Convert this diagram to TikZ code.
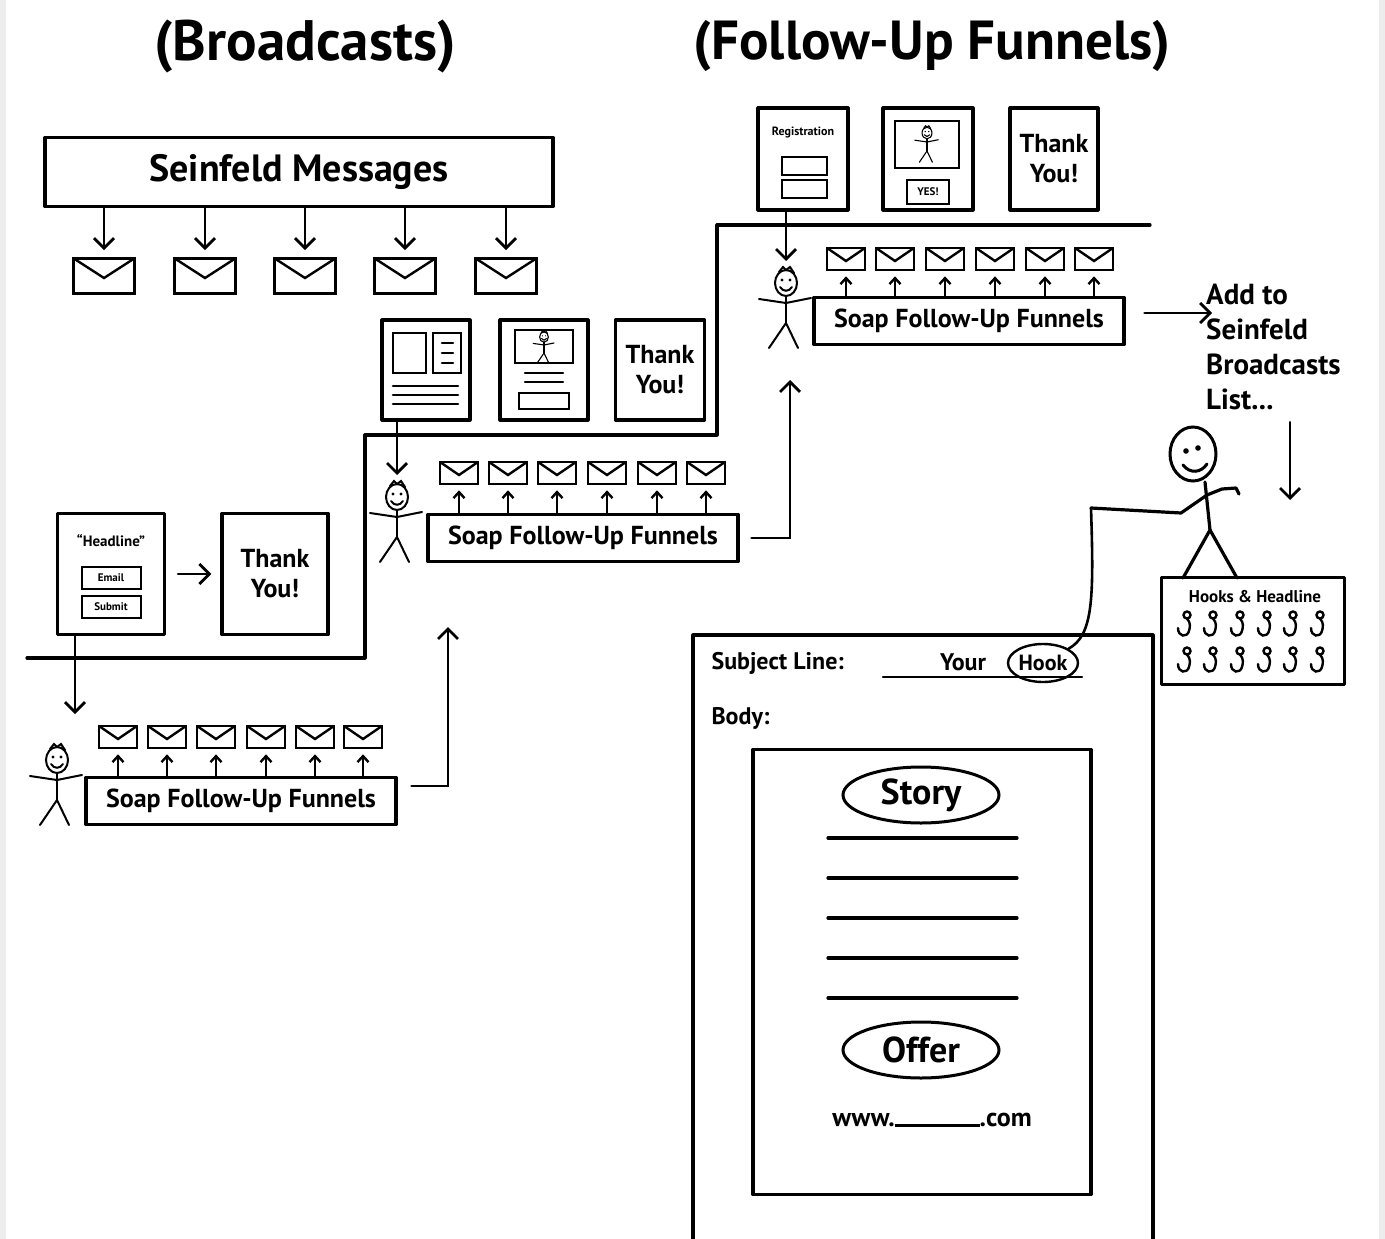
\documentclass[tikz,border=0pt]{standalone}
\usepackage{fontspec}
\setmainfont{PT Sans}
\usetikzlibrary{arrows.meta,shapes.geometric}

\newcommand\handsize[2]{\fontsize{#1}{#2}\selectfont\bfseries}

\tikzset{
  ink/.style={line width=3.2pt,line join=round},
  page/.style={draw,ink,inner sep=0pt,align=center},
  funnel/.style={page,minimum width=310pt,minimum height=47pt,font=\handsize{26}{31}},
  env/.style={draw,line width=2.6pt,inner sep=0pt,minimum width=#1,minimum height=0.58*#1,
    path picture={\draw[line width=2.4pt] (path picture bounding box.north west)
      -- ([yshift=-2pt]path picture bounding box.center) -- (path picture bounding box.north east);}},
  env/.default=38pt,
  arr/.style={line width=2.8pt,-{Straight Barb[length=10pt,width=20pt]}},
  uparr/.style={line width=2.4pt,-{Straight Barb[length=6pt,width=11pt]}},
  % little stick figure, origin at the centre of the head
  stickman/.pic={
    \draw (0,0) ellipse[x radius=11pt,y radius=13pt];
    \fill (-4,-3) circle[radius=1.6pt] (4,-3) circle[radius=1.6pt];
    \draw (-6,4) .. controls (-3,9) and (3,9) .. (6,4);
    \draw (-7,-11) -- (-3,-16) -- (0,-13) -- (4,-16) -- (8,-10);
    \draw (0,13) -- (0,40);
    \draw (-27,16) -- (0,20) -- (25,15);
    \draw (-17,65) -- (0,40) -- (12,65);
    \coordinate (-top) at (0,-22);
  },
  fishhook/.pic={
    \draw (0,0) circle[radius=3.5pt];
    \draw (0,3.5) .. controls (4,8) and (3,12) .. (2,16) .. controls (0,23) and (-9,22) .. (-9,13);
  }
}

\begin{document}
\begin{tikzpicture}[x=1pt,y=-1pt,line cap=round]
\useasboundingbox (0,0) rectangle (1385,1239);
\fill[white] (0,0) rectangle (1385,1239);
\fill[black!7] (0,0) rectangle (6,1239) (1379,0) rectangle (1385,1239);

% headings
\node[font=\handsize{57}{62}] (bcast) at (305,46) {(Broadcasts)};
\node[font=\handsize{55}{62}] (fup) at (932,46) {(Follow-Up Funnels)};

% broadcast box and its mails
\node[page,minimum width=508pt,minimum height=69pt,font=\handsize{38}{44}] (seinfeld) at (299,172) {Seinfeld Messages};
\foreach \x [count=\i] in {104,205,305,405,506}{
  \node[env=61pt] (mail\i) at (\x,276) {};
  \draw[arr,shorten >=7pt] (seinfeld.south -| mail\i) -- (mail\i.north);
}

% the staircase
\draw[ink] (27,658) -- (365,658) -- (365,435) -- (717,435) -- (717,225) -- (1150,225);

% step 1
\node[page,minimum width=107pt,minimum height=121pt] (optin) at (111,574) {};
\node[font=\handsize{15}{18}] (headline) at (111,541) {``Headline''};
\node[draw,line width=2pt,minimum width=59pt,minimum height=22pt,inner sep=0pt,font=\handsize{11}{13}] (email) at (111,578) {Email};
\node[draw,line width=2pt,minimum width=59pt,minimum height=22pt,inner sep=0pt,font=\handsize{11}{13}] (submit) at (111,607) {Submit};
\node[page,minimum width=106pt,minimum height=121pt,font=\handsize{26}{30}] (thanks1) at (275,574) {Thank\\You!};
\draw[arr,shorten <=12pt,shorten >=9pt] (optin) -- (thanks1);

\pic[line width=2pt] (man1) at (57,760) {stickman};
\coordinate (drop1) at (75,714);
\draw[arr] (optin.south -| drop1) -- (drop1);

\node[funnel] (soap1) at (241,801) {Soap Follow-Up Funnels};
\foreach \x [count=\i] in {118,167,216,266,315,363}{
  \node[env] (ea\i) at (\x,737) {};
  \draw[uparr,shorten >=5pt] (soap1.north -| ea\i) -- (ea\i.south);
}
\coordinate (rise1) at (448,627);
\draw[arr] ([xshift=14pt,yshift=15pt]soap1.east) -| (rise1);

% step 2
\node[page,minimum width=88pt,minimum height=100pt] (sales2) at (426,370) {};
\draw[line width=2.4pt] (393,333) rectangle (426,373) (433,333) rectangle (461,373);
\draw[line width=2.6pt] (442,343) -- (453,343) (442,353) -- (453,353) (442,363) -- (453,363);
\draw[line width=2.6pt] (393,386) -- (458,386) (393,395) -- (458,395) (393,404) -- (458,404);
\node[page,minimum width=88pt,minimum height=100pt] (video2) at (544,370) {};
\draw[line width=2.4pt] (515,330) rectangle (573,363);
\pic[scale=.4,line width=1.1pt] at (544,337) {stickman};
\draw[line width=2.4pt] (525,373) -- (563,373) (525,382) -- (563,382);
\draw[line width=2.4pt] (519,393) rectangle (569,409);
\node[page,minimum width=89pt,minimum height=100pt,font=\handsize{26}{30}] (thanks2) at (660,370) {Thank\\You!};

\pic[line width=2pt] (man2) at (397,497) {stickman};
\draw[arr] (sales2.south -| man2-top) -- (man2-top);

\node[funnel] (soap2) at (583,538) {Soap Follow-Up Funnels};
\foreach \x [count=\i] in {459,508,557,607,657,706}{
  \node[env] (eb\i) at (\x,473) {};
  \draw[uparr,shorten >=5pt] (soap2.north -| eb\i) -- (eb\i.south);
}
\coordinate (rise2) at (790,380);
\draw[arr] ([xshift=12pt]soap2.east) -| (rise2);

% step 3
\node[page,minimum width=90pt,minimum height=102pt] (reg3) at (803,159) {};
\node[font=\handsize{12}{14}] (regtitle) at (803,133) {Registration};
\draw[line width=2.4pt] (782,157) rectangle (827,175) (782,180) rectangle (827,198);
\node[page,minimum width=90pt,minimum height=102pt] (video3) at (928,159) {};
\draw[line width=2.4pt] (895,121) rectangle (959,168);
\pic[scale=.45,line width=1.1pt] at (927,133) {stickman};
\node[draw,line width=2pt,minimum width=42pt,minimum height=24pt,inner sep=0pt,font=\handsize{11}{13}] (yes) at (928,192) {YES!};
\node[page,minimum width=88pt,minimum height=102pt,font=\handsize{26}{30}] (thanks3) at (1054,159) {Thank\\You!};

\pic[line width=2pt] (man3) at (786,283) {stickman};
\draw[arr] (reg3.south -| man3-top) -- (man3-top);

\node[funnel] (soap3) at (969,321) {Soap Follow-Up Funnels};
\foreach \x [count=\i] in {846,895,945,995,1045,1094}{
  \node[env] (ec\i) at (\x,259) {};
  \draw[uparr,shorten >=5pt] (soap3.north -| ec\i) -- (ec\i.south);
}
\node[anchor=north west,align=left,inner sep=0pt,font=\handsize{29}{35}] (addlist) at (1206,284) {Add to\\Seinfeld\\Broadcasts\\List...};
\coordinate (addin) at (1212,313);
\draw[arr] ([xshift=19pt,yshift=8pt]soap3.east) -- (addin);
\coordinate (drop4) at (1290,500);
\draw[arr,shorten <=12pt] (addlist.south -| drop4) -- (drop4);

% tackle box and the fisherman
\node[page,minimum width=183pt,minimum height=107pt] (tackle) at (1253,631) {};
\node[font=\handsize{17}{20}] (tacklelabel) at (1255,597) {Hooks \& Headline};
\foreach \x in {1187,1213,1240,1267,1293,1320}{
  \pic[line width=2.4pt] at (\x,615) {fishhook};
  \pic[line width=2.4pt] at (\x,651) {fishhook};
}
\draw[line width=3pt] (1193,454) ellipse[x radius=23pt,y radius=27pt];
\fill (1186,451) circle[radius=2.8pt] (1198,448) circle[radius=2.8pt];
\draw[line width=3pt] (1183,465) .. controls (1190,474) and (1201,473) .. (1207,464);
\draw[ink] (1205,482) -- (1210,530);
\draw[ink] (1183,578) -- (1210,530) -- (1237,578);
\draw[ink] (1207,495) -- (1222,489) -- (1236,488) -- (1239,494);
\coordinate (hand) at (1091,508);
\draw[ink] (1207,495) -- (1181,513) -- (hand);

% the mail itself
\draw[ink] (693,1239) -- (693,635) -- (1153,635) -- (1153,1239);
\node[anchor=west,font=\handsize{24}{28}] (subj) at (708,663) {Subject Line:};
\draw[line width=2.4pt] (883,677) -- (1082,677);
\node[font=\handsize{24}{28}] (your) at (963,662) {Your};
\node[draw,ellipse,line width=2.4pt,minimum width=70pt,minimum height=38pt,inner sep=0pt,font=\handsize{22}{26}] (bait) at (1043,663) {Hook};
\draw[line width=2.6pt] (hand) .. controls (1094,600) and (1093,635) .. (bait.north east);
\node[anchor=west,font=\handsize{24}{28}] (body) at (708,718) {Body:};
\node[page,minimum width=338pt,minimum height=445pt] (copy) at (922,972) {};
\node[draw,ellipse,line width=3pt,minimum width=156pt,minimum height=56pt,inner sep=0pt,font=\handsize{36}{40}] (story) at (921,795) {Story};
\foreach \y in {838,878,918,958,998} \draw[ink] (828,\y) -- (1017,\y);
\node[draw,ellipse,line width=3pt,minimum width=156pt,minimum height=56pt,inner sep=0pt,font=\handsize{36}{40}] (offer) at (921,1050) {Offer};
\node[font=\handsize{26}{30}] (link) at (932,1120) {www.\rule{85pt}{2.4pt}.com};
\end{tikzpicture}
\end{document}
